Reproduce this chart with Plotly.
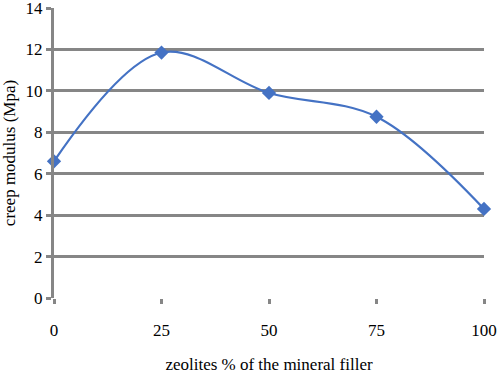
import plotly.graph_objects as go

zeolite_pct = [0, 25, 50, 75, 100]
creep_modulus = [6.6, 11.85, 9.9, 8.75, 4.3]
x_tick_labels = ["0", "25", "50", "75", "100"]
y_tick_values = [0, 2, 4, 6, 8, 10, 12, 14]

grid_color = "#868686"
line_color = "#4472C4"
serif = "Liberation Serif"

fig = go.Figure()
fig.add_trace(go.Scatter(
    x=zeolite_pct, y=creep_modulus,
    mode="lines+markers",
    line=dict(color=line_color, width=2.2, shape="spline", smoothing=1),
    marker=dict(symbol="diamond", size=11, color=line_color),
    cliponaxis=False,
    showlegend=False,
))

fig.update_layout(
    width=499, height=374,
    margin=dict(l=54, r=15, t=8, b=76),
    paper_bgcolor="white", plot_bgcolor="white",
    font=dict(family=serif, size=17, color="black"),
    xaxis=dict(
        range=[0, 100], tickvals=zeolite_pct, ticktext=x_tick_labels,
        showgrid=False, zeroline=False, showline=False,
        ticks="outside", ticklen=5, tickwidth=3, tickcolor=grid_color,
        ticklabelstandoff=12, ticklabeloverflow="allow",
        automargin=False,
        title=dict(text="zeolites % of the mineral filler", standoff=18,
                   font=dict(family=serif, size=17)),
    ),
    yaxis=dict(
        range=[0, 14], tickvals=y_tick_values,
        showgrid=True, gridcolor=grid_color, gridwidth=3,
        zeroline=False, showline=True, linecolor=grid_color, linewidth=3,
        ticks="outside", ticklen=5, tickwidth=3, tickcolor=grid_color,
        ticklabeloverflow="allow",
        automargin=False,
        title=dict(text="creep modulus (Mpa)", standoff=6,
                   font=dict(family=serif, size=17)),
    ),
)

fig.write_html("out.html",
               config={"displayModeBar": False},
               post_script="document.body.style.margin='0';document.body.style.padding='0';")
